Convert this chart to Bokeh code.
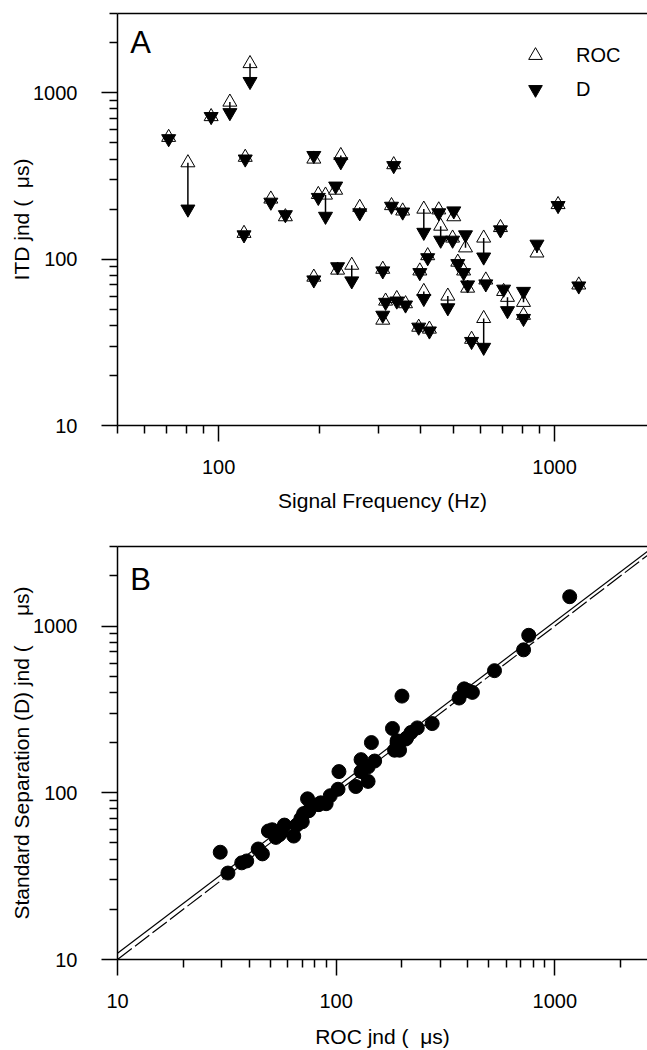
from bokeh.plotting import figure
from bokeh.layouts import column
from bokeh.models import (LogAxis, FixedTicker, PrintfTickFormatter, Legend,
                          LegendItem, Label, Range1d)
from bokeh.embed import file_html
from bokeh.resources import INLINE

# ---------------- data ----------------
freq = [71, 81, 95, 108, 124, 120, 119, 143, 158, 192, 231, 198, 208, 223, 263,
        192, 226, 249, 332, 327, 353, 408, 452, 501, 458, 497, 543, 615, 690, 886,
        1024, 1180, 308, 419, 397, 408, 481, 515, 536, 551, 624, 705, 724, 808, 808,
        314, 339, 360, 308, 615, 566, 394, 424]
roc = [540, 380, 720, 880, 1500, 410, 143, 230, 180, 400, 420, 245, 243, 260, 205,
       78, 86, 92, 370, 210, 195, 200, 198, 180, 158, 134, 117, 134, 155, 109,
       213, 70, 87, 105, 85, 64, 60, 96, 85, 67, 75, 64, 59, 55, 46,
       56, 58, 54, 43, 44, 33, 39, 38]
d = [530, 200, 720, 760, 1170, 400, 140, 220, 185, 420, 385, 235, 181, 275, 190,
     75, 90, 74, 365, 208, 192, 145, 190, 195, 130, 130, 140, 103, 150, 123,
     210, 69, 85, 102, 83, 58, 51, 94, 83, 70, 71, 66, 49, 64, 44,
     55, 56, 53, 46, 29.5, 32, 39, 37]

fit_x = [10, 3000]
fit_y = [10.9, 3170]
unity_x = [10, 3000]
unity_y = [10, 3000]

major_ticks = [10, 100, 1000]
minor_ticks = [20, 30, 40, 50, 60, 70, 80, 90, 200, 300, 400, 500, 600, 700, 800, 900,
               2000, 3000]
freq_major = [100, 1000]
freq_minor = [50, 60, 70, 80, 90, 200, 300, 400, 500, 600, 700, 800, 900, 2000]

FONT = "Liberation Sans"
NB = "\u00a0"


def style_axis(ax, major, minor, label, standoff, label_standoff):
    ax.ticker = FixedTicker(ticks=major, minor_ticks=minor)
    ax.formatter = PrintfTickFormatter(format="%d")
    ax.axis_label = label
    ax.axis_line_width = 1.5
    ax.axis_line_color = "black"
    ax.major_tick_line_width = 1.5
    ax.minor_tick_line_width = 1.5
    ax.major_tick_line_color = "black"
    ax.minor_tick_line_color = "black"
    ax.major_tick_in = 0
    ax.major_tick_out = 16
    ax.minor_tick_in = 0
    ax.minor_tick_out = 8
    ax.major_label_text_font = FONT
    ax.major_label_text_font_size = "20px"
    ax.major_label_text_color = "black"
    ax.major_label_standoff = standoff
    ax.axis_label_text_font = FONT
    ax.axis_label_text_font_size = "21px"
    ax.axis_label_text_font_style = "normal"
    ax.axis_label_text_color = "black"
    ax.axis_label_standoff = label_standoff


def add_top_line(p):
    top = LogAxis(ticker=FixedTicker(ticks=[]))
    top.major_tick_out = 0
    top.major_tick_in = 0
    top.minor_tick_out = 0
    top.minor_tick_in = 0
    top.major_label_standoff = 0
    top.major_label_text_font_size = "0px"
    top.axis_line_width = 1.5
    top.axis_line_color = "black"
    p.add_layout(top, "above")


# ---------------- panel A ----------------
p1 = figure(width=647, height=530, x_axis_type="log", y_axis_type="log",
            x_range=Range1d(50, 1890), y_range=Range1d(10, 3000),
            output_backend="svg", toolbar_location=None,
            min_border_left=117, min_border_right=0, min_border_top=13,
            min_border_bottom=105)
p1.outline_line_color = None
p1.xgrid.visible = False
p1.ygrid.visible = False
style_axis(p1.xaxis[0], freq_major, freq_minor, "Signal Frequency (Hz)", 18, 12)
style_axis(p1.yaxis[0], major_ticks, minor_ticks,
           "ITD jnd (" + NB * 2 + "\u03bcs)", 24, -3)
add_top_line(p1)

r_roc = p1.scatter(freq, roc, marker="triangle", size=14, fill_color="white",
                   line_color="black", line_width=1)
p1.segment(x0=freq, y0=roc, x1=freq, y1=d, line_color="black", line_width=1.5)
r_d = p1.scatter(freq, d, marker="inverted_triangle", size=14, fill_color="black",
                 line_color="black", line_width=1)

legend = Legend(items=[LegendItem(label="ROC", renderers=[r_roc]),
                       LegendItem(label="D", renderers=[r_d])],
                location=(401, 319), glyph_width=34, glyph_height=34,
                label_height=34, spacing=0, padding=5, margin=0,
                label_standoff=24, border_line_color=None,
                background_fill_alpha=0, label_text_font=FONT,
                label_text_font_size="20px", label_text_color="black")
p1.add_layout(legend)

p1.add_layout(Label(x=23, y=383, x_units="screen", y_units="screen", text="A",
                    text_font=FONT, text_font_size="31px", text_align="center",
                    text_baseline="middle", text_color="black"))

# ---------------- panel B ----------------
p2 = figure(width=647, height=520, x_axis_type="log", y_axis_type="log",
            x_range=Range1d(10, 2655), y_range=Range1d(10, 3000),
            output_backend="svg", toolbar_location=None,
            min_border_left=117, min_border_right=0, min_border_top=16,
            min_border_bottom=91)
p2.outline_line_color = None
p2.xgrid.visible = False
p2.ygrid.visible = False
style_axis(p2.xaxis[0], major_ticks, minor_ticks,
           "ROC jnd (" + NB * 2 + "\u03bcs)", 18, 14)
style_axis(p2.yaxis[0], major_ticks, minor_ticks,
           "Standard Separation (D) jnd (" + NB * 5 + "\u03bcs)", 24, -3)
add_top_line(p2)

p2.line(fit_x, fit_y, line_color="black", line_width=1.2)
p2.line(unity_x, unity_y, line_color="black", line_width=1.2, line_dash="18 4")
p2.scatter(d, roc, marker="circle", size=14, fill_color="black", line_color="black")

p2.add_layout(Label(x=23, y=380, x_units="screen", y_units="screen", text="B",
                    text_font=FONT, text_font_size="31px", text_align="center",
                    text_baseline="middle", text_color="black"))

layout = column(p1, p2, spacing=0)
open("out.html", "w").write(file_html(layout, INLINE))
